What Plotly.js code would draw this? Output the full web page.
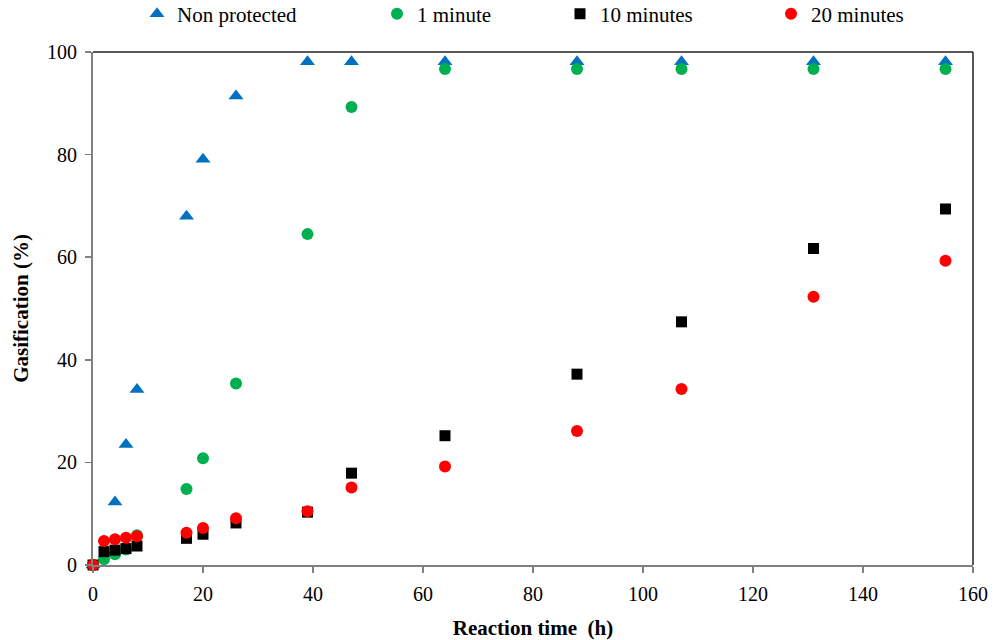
<!DOCTYPE html>
<html>
<head>
<meta charset="utf-8">
<script src="https://cdn.plot.ly/plotly-3.0.1.min.js"></script>
<style>html,body{margin:0;padding:0;background:#fff}#chart{width:995px;height:640px}</style>
</head>
<body>
<div id="chart"></div>
<script>
// Reaction time (h)
const timeNonProtected = [0, 4, 6, 8, 17, 20, 26, 39, 47, 64, 88, 107, 131, 155];
const gasNonProtected  = [0, 12.3, 23.5, 34.2, 68.0, 79.1, 91.4, 98.1, 98.1, 98.1, 98.1, 98.1, 98.1, 98.1];

const time1min = [0, 2, 4, 6, 8, 17, 20, 26, 39, 47, 64, 88, 107, 131, 155];
const gas1min  = [0, 1.1, 2.1, 3.0, 5.8, 14.8, 20.8, 35.4, 64.5, 89.3, 96.7, 96.7, 96.7, 96.7, 96.7];

const time10min = [0, 2, 4, 6, 8, 17, 20, 26, 39, 47, 64, 88, 107, 131, 155];
const gas10min  = [0, 2.6, 2.9, 3.2, 3.7, 5.2, 6.0, 8.2, 10.3, 17.9, 25.2, 37.2, 47.4, 61.7, 69.4];

const time20min = [0, 2, 4, 6, 8, 17, 20, 26, 39, 47, 64, 88, 107, 131, 155];
const gas20min  = [0, 4.7, 5.0, 5.3, 5.6, 6.3, 7.2, 9.1, 10.5, 15.1, 19.2, 26.1, 34.3, 52.3, 59.3];

const seriesNames = ["Non protected", "1 minute", "10 minutes", "20 minutes"];
const xTicks = [0, 20, 40, 60, 80, 100, 120, 140, 160];
const yTicks = [0, 20, 40, 60, 80, 100];

const font = "Liberation Serif, Times New Roman, serif";

function tr(x, y, name, symbol, color, size, legend) {
  return {
    x: x, y: y, name: name, type: "scatter", mode: "markers",
    cliponaxis: false, legend: legend,
    marker: {symbol: symbol, color: color, size: size, line: {width: 0}}
  };
}

const data = [
  tr(timeNonProtected, gasNonProtected, seriesNames[0], "triangle-up", "#0070C0", 13, "legend"),
  tr(time1min, gas1min, seriesNames[1], "circle", "#00B050", 12, "legend2"),
  tr(time10min, gas10min, seriesNames[2], "square", "#000000", 11, "legend3"),
  tr(time20min, gas20min, seriesNames[3], "circle", "#FF0000", 12, "legend4")
];

function leg(xpx) {
  return {
    x: xpx / 995, xref: "container", xanchor: "left",
    y: 1 - 14 / 640, yref: "container", yanchor: "middle",
    orientation: "h", bgcolor: "rgba(0,0,0,0)",
    font: {family: font, size: 21, color: "#000"}
  };
}

const layout = {
  width: 995, height: 640,
  margin: {l: 92.5, r: 22.3, t: 52.3, b: 75},
  paper_bgcolor: "#fff", plot_bgcolor: "#fff",
  font: {family: font, size: 20, color: "#000"},
  showlegend: true,
  legend: leg(137), legend2: leg(377), legend3: leg(560), legend4: leg(771),
  xaxis: {
    range: [0, 160], tickvals: xTicks, ticktext: xTicks.map(String),
    showgrid: false, zeroline: false,
    showline: true, linecolor: "#808080", linewidth: 2,
    ticks: "outside", ticklen: 6, tickcolor: "#808080", tickwidth: 1.5,
    ticklabelstandoff: 4,
    tickfont: {family: font, size: 20, color: "#000"},
    title: {text: "<b>Reaction time  (h)</b>", font: {family: font, size: 21, color: "#000"}, standoff: 16}
  },
  yaxis: {
    range: [0, 100], tickvals: yTicks, ticktext: yTicks.map(String),
    showgrid: false, zeroline: false,
    showline: true, linecolor: "#808080", linewidth: 2,
    ticks: "outside", ticklen: 6, tickcolor: "#808080", tickwidth: 1.5,
    ticklabelstandoff: 4,
    tickfont: {family: font, size: 20, color: "#000"},
    title: {text: "<b>Gasification (%)</b>", font: {family: font, size: 21, color: "#000"}, standoff: 13}
  },
  shapes: [
    {type: "line", xref: "paper", yref: "paper", x0: 0, x1: 1, y0: 1, y1: 1, line: {color: "#222", width: 1.5}},
    {type: "line", xref: "paper", yref: "paper", x0: 1, x1: 1, y0: 0, y1: 1, line: {color: "#222", width: 1.5}}
  ]
};

Plotly.newPlot("chart", data, layout, {displayModeBar: false, staticPlot: true});
</script>
</body>
</html>
